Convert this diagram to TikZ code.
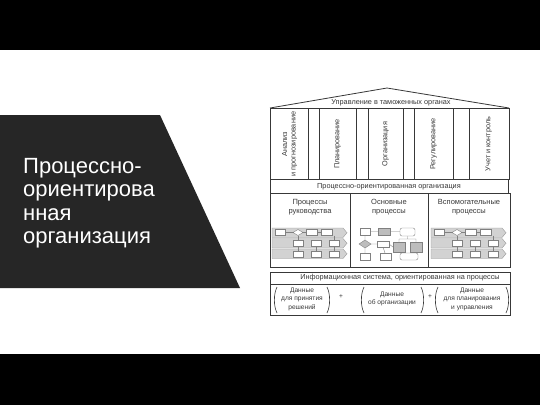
\documentclass[tikz,border=0pt]{standalone}
\usepackage{fontspec}
\setmainfont{Liberation Sans}
\definecolor{trap}{HTML}{262626}
\definecolor{ink}{HTML}{383838}
\definecolor{bandgray}{HTML}{D2D2D2}
\definecolor{boxgray}{HTML}{BDBDBD}
\begin{document}
\begin{tikzpicture}[x=1pt,y=-1pt,
  lbl/.style={font=\fontsize{7.3}{8.5}\selectfont, text=ink, inner sep=0pt, align=center},
  plbl/.style={font=\fontsize{7.5}{9}\selectfont, text=ink, inner sep=0pt, align=center},
  dlbl/.style={font=\fontsize{6.6}{8.5}\selectfont, text=ink, inner sep=0pt, align=center},
  frame/.style={draw=ink, line width=0.8pt},
  paren/.style={draw=ink, line width=0.6pt},
  conn/.style={draw=gray, line width=0.4pt},
  band/.style={fill=bandgray, draw=gray!80, line width=0.4pt},
  wbox/.style={fill=white, draw=gray, line width=0.4pt},
  gbox/.style={fill=boxgray, draw=gray, line width=0.4pt},
]
\useasboundingbox (0,0) rectangle (540,405);
\fill[white] (0,0) rectangle (540,405);
\fill[black] (0,0) rectangle (540,50);
\fill[black] (0,354) rectangle (540,405);
\fill[trap] (0,115) -- (160,115) -- (240,288) -- (0,288) -- cycle;
\node[anchor=north west, inner sep=0pt, align=left, text=white,
  font=\fontsize{22}{23.5}\selectfont] (title) at (23,158)
  {Процессно-\\ориентирова\\нная\\организация};

% roof
\draw[frame] (270,108) -- (387,88) -- (509,108);
\node[lbl] (roof) at (391,102.5) {Управление в таможенных органах};
% columns
\draw[frame] (270,108) rectangle (509,179);
\foreach \x in {308,319,356,368,403,414,453,469}
  \draw[frame] (\x,108) -- (\x,179);
\node[lbl, rotate=90] (c1) at (289.5,144) {Анализ\\и прогнозирование};
\node[lbl, rotate=90] (c2) at (337.5,144) {Планирование};
\node[lbl, rotate=90] (c3) at (385.5,144) {Организация};
\node[lbl, rotate=90] (c4) at (433.5,144) {Регулирование};
\node[lbl, rotate=90] (c5) at (488.5,144) {Учет и контроль};
% process-oriented row
\draw[frame] (270,179) rectangle (508,193);
\node[lbl] (row) at (389,186.5) {Процессно-ориентированная организация};
% panels
\draw[frame] (270,193) rectangle (510,267);
\draw[frame] (350,193) -- (350,267);
\draw[frame] (428,193) -- (428,267);
\node[plbl] (p1) at (310,207.5) {Процессы\\руководства};
\node[plbl] (p2) at (389,207.5) {Основные\\процессы};
\node[plbl] (p3) at (469,207.5) {Вспомогательные\\процессы};

% swimlane bands (panels 1 and 3)
\foreach \dx in {0,159}{
\begin{scope}[shift={(\dx,0)}]
  \foreach \ya/\yb in {228/237.5, 238.5/248, 249/258.5}
    \filldraw[band] (272,\ya) -- (343,\ya) -- (347,{(\ya+\yb)/2}) -- (343,\yb) -- (272,\yb) -- cycle;
  % band 1
  \draw[conn] (285,232.5) -- (294,232.5) (302,232.5) -- (306,232.5) (317,232.5) -- (321,232.5);
  \filldraw[wbox] (275,229.5) rectangle (285,235.5);
  \filldraw[wbox] (293,232.5) -- (298,229.5) -- (303,232.5) -- (298,235.5) -- cycle;
  \filldraw[wbox] (306,229.5) rectangle (317,235.5);
  \filldraw[wbox] (321,229.5) rectangle (332,235.5);
  % connectors between bands
  \draw[conn] (298,235.5) -- (298,240) (334,235.5) -- (334,240)
              (298,246) -- (298,251) (316,246) -- (316,251) (334,246) -- (334,251);
  % band 2
  \filldraw[wbox] (293,240) rectangle (303,246);
  \filldraw[wbox] (311,240) rectangle (321,246);
  \filldraw[wbox] (329,240) rectangle (339,246);
  % band 3
  \filldraw[wbox] (293,251) rectangle (303,257);
  \filldraw[wbox] (311,251) rectangle (321,257);
  \filldraw[wbox] (329,251) rectangle (339,257);
\end{scope}}

% main process flowchart (panel 2)
\draw[conn] (370,231.5) -- (378,231.5) (390,231.5) -- (400,231.5)
            (365,235) -- (365,240) (370,244) -- (377,244)
            (365,248) -- (365,253) (383,247) -- (385,253)
            (407.5,236) -- (407.5,239) (399,239) -- (416,239)
            (399,239) -- (399,242) (416,239) -- (416,242)
            (399,252) -- (404,253) (416,252) -- (412,253)
            (389,244) -- (393,247);
\filldraw[wbox] (360,228) rectangle (370,235);
\filldraw[gbox] (378,228) rectangle (390,235);
\filldraw[wbox, rounded corners=2pt] (400,228) rectangle (415,236);
\filldraw[gbox] (359,244) -- (365,240) -- (371,244) -- (365,248) -- cycle;
\filldraw[wbox] (377,241) rectangle (389,247);
\filldraw[gbox] (393,242) rectangle (405,252);
\filldraw[gbox] (410,242) rectangle (422,252);
\filldraw[wbox] (360,253) rectangle (370,260);
\filldraw[wbox] (380,253) rectangle (391,260);
\filldraw[wbox, rounded corners=2pt] (400,253) rectangle (418,260);

% information system
\draw[frame] (270,272) rectangle (510,315);
\draw[frame] (270,284) -- (510,284);
\node[lbl] (info) at (400,278) {Информационная система, ориентированная на процессы};
\draw[paren] (277,287) .. controls (273.5,294) and (273.5,306) .. (277,313);
\draw[paren] (327,287) .. controls (330.5,294) and (330.5,306) .. (327,313);
\draw[paren] (364,287) .. controls (360.5,294) and (360.5,306) .. (364,313);
\draw[paren] (421,287) .. controls (424.5,294) and (424.5,306) .. (421,313);
\draw[paren] (438,287) .. controls (434.5,294) and (434.5,306) .. (438,313);
\draw[paren] (506,287) .. controls (509.5,294) and (509.5,306) .. (506,313);
\node[dlbl] (d1) at (302,299) {Данные\\для принятия\\решений};
\node[dlbl] (plus1) at (341,297) {+};
\node[dlbl] (d2) at (392,299) {Данные\\об организации};
\node[dlbl] (plus2) at (430,297) {+};
\node[dlbl] (d3) at (472,299) {Данные\\для планирования\\и управления};
\end{tikzpicture}
\end{document}
